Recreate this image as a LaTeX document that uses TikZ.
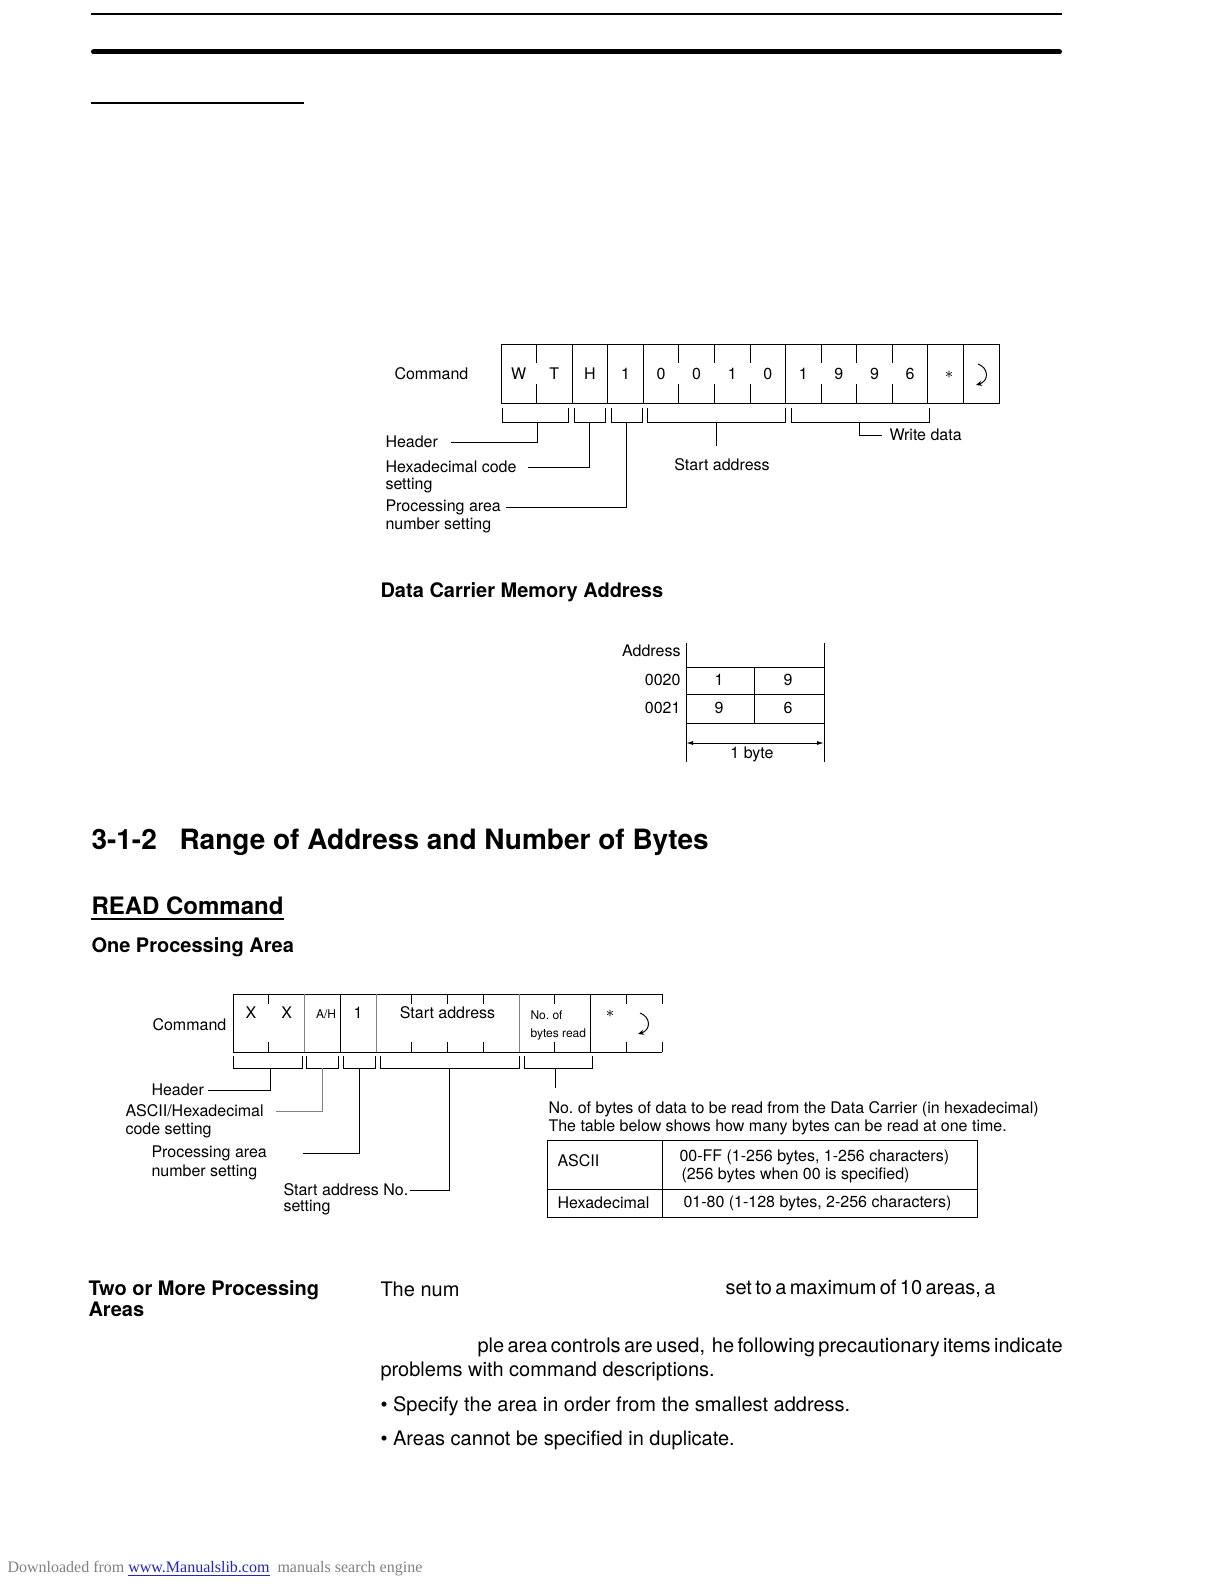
\documentclass[tikz,border=0pt]{standalone}
\usepackage{fontspec}
\setmainfont{TeX Gyre Heros}
\newfontfamily\footfont{Liberation Serif}
\usepackage{xcolor}
\usepackage{tikz}
\usetikzlibrary{arrows.meta, positioning}

\definecolor{linkblue}{RGB}{35,35,190}
\newcommand{\lblsize}{\fontsize{8}{9.6}\selectfont}
\newcommand{\tinysize}{\fontsize{6}{7.2}\selectfont}
\newcommand{\bodysize}{\fontsize{10}{12}\selectfont}
\newcommand{\tightwords}{\spaceskip=1.7pt plus 0.5pt\relax}

\begin{document}
\begin{tikzpicture}[
    x=0.5pt, y=-0.5pt, line width=0.5pt,
    lbl/.style={font=\lblsize, inner sep=0pt, anchor=west},
    cellch/.style={font=\lblsize, inner sep=0pt},
    smallch/.style={font=\tinysize, inner sep=0pt, anchor=west},
    head/.style={font=\bfseries\bodysize, inner sep=0pt, anchor=west},
    body/.style={font=\bodysize, inner sep=0pt, anchor=west},
    title/.style={font=\bfseries\fontsize{14}{16.8}\selectfont, inner sep=0pt, anchor=base west},
    ret/.style={-{Stealth[length=3pt, width=2.6pt]}},
    dimtip/.style={{Latex[length=3.5pt, width=2pt]}-{Latex[length=3.5pt, width=2pt]}}
  ]
  \useasboundingbox (0,0) rectangle (1224,1584);

  % page rules
  \draw[line width=1pt] (91,14) -- (1062,14);
  \draw[line width=2.5pt, line cap=round] (93.5,52) -- (1059.5,52);
  \draw[line width=0.6pt] (91,103) -- (304,103);

  % WRITE command frame
  \node[lbl] (wcmd) at (394,374) {Command};
  \draw (501,344) rectangle (999,403);
  \foreach \i in {2,3,4,8,12,13}
    \draw ({501+\i*35.57},344) -- ++(0,59);
  \foreach \i in {1,5,6,7,9,10,11} {
    \draw ({501+\i*35.57},344) -- ++(0,19);
    \draw ({501+\i*35.57},403) -- ++(0,-19);
  }
  \foreach \c [count=\i from 0] in {W,T,H,1,0,0,1,0,1,9,9,6}
    \node[cellch] (w\i) at ({501+(\i+0.5)*35.57},374) {\c};
  \node[cellch] (wast) at (949,375) {$\ast$};
  \draw[ret] (978,364) .. controls (989,368) and (989,381) .. (976,385);

  % WRITE field brackets
  \foreach \l/\r/\m/\n in {502/568/537/wb1, 574/605/589.5/wb2, 611/642/626.5/wb3,
                           647/785/716/wb4, 791/929/859/wb5} {
    \draw (\l,408) -- (\l,422) -- (\r,422) -- (\r,408);
    \coordinate (\n) at (\m,422);
  }

  % WRITE field labels
  \node[lbl] (whdr) at (385,442) {Header};
  \node[lbl] (whex) at (385,467) {Hexadecimal code};
  \node[lbl] (whex2) at (385,486) {setting};
  \node[lbl] (wproc) at (385,507) {Processing area};
  \node[lbl] (wproc2) at (385,525) {number setting};
  \node[cellch, below=18pt of wb4, xshift=3pt] (wsa) {Start address};
  \node[lbl] (wwd) at (889,435) {Write data};

  \draw (wb1) |- ([xshift=6.5pt]whdr.east);
  \draw (wb2) |- ([xshift=5.5pt]whex.east);
  \draw (wb3) |- ([xshift=2.5pt]wproc.east);
  \draw (wb4) -- ([yshift=6pt]wb4 |- wsa.north);
  \draw (wb5) |- ([xshift=-3.5pt]wwd.west);

  % memory address map
  \node[head] (memh) at (380,592) {Data Carrier Memory Address};
  \draw (686,643) -- (686,762);
  \draw (824,643) -- (824,762);
  \foreach \y in {667,694,723}
    \draw (686,\y) -- (824,\y);
  \draw (754,667) -- (754,723);
  \node[lbl, anchor=east] (maddr) at (681,651) {Address};
  \node[lbl, anchor=east] (m20) at (681,680) {0020};
  \node[lbl, anchor=east] (m21) at (681,708) {0021};
  \node[cellch] (m20a) at (719,680) {1};
  \node[cellch] (m20b) at (788,680) {9};
  \node[cellch] (m21a) at (719,708) {9};
  \node[cellch] (m21b) at (788,708) {6};
  \coordinate (mleft) at (686,743);
  \coordinate (mright) at (824,743);
  \draw[dimtip] (mleft) -- (mright);
  \node[cellch] (mbyte) at (752,754) {1 byte};

  % headings
  \node[title] (secno) at (91,849) {3-1-2};
  \node[title] (sectitle) at (179,849) {Range of Address and Number of Bytes};
  \node[font=\bfseries\fontsize{12}{14.4}\selectfont, inner sep=0pt, anchor=west]
    (readh) at (91,906) {READ Command};
  \draw[line width=1pt] (91,919) -- (readh.east |- 0,919);
  \node[head] (oneh) at (91,947) {One Processing Area};

  % READ command frame
  \node[lbl] (rcmd) at (152,1025) {Command};
  \draw (662,994) -- (233,994) -- (233,1052) -- (662,1052);
  \foreach \i in {3,10}
    \draw ({233+\i*35.75},994) -- ++(0,58);
  \foreach \i in {2,4,8}
    \draw[gray] ({233+\i*35.75},994) -- ++(0,58);
  \foreach \i in {1,5,6,7,9,11,12} {
    \draw ({233+\i*35.75},994) -- ++(0,10);
    \draw ({233+\i*35.75},1052) -- ++(0,-10);
  }
  \node[cellch] (rx1) at ({233+0.5*35.75},1013) {X};
  \node[cellch] (rx2) at ({233+1.5*35.75},1013) {X};
  \node[cellch, font=\tinysize] (rah) at (326,1014) {A/H};
  \node[cellch] (rone) at ({233+3.5*35.75},1013) {1};
  \node[cellch] (rsad) at ({233+6*35.75},1013) {Start address};
  \node[smallch] (rno) at (530,1015) {No.\ of};
  \node[smallch] (rno2) at (530,1034) {bytes read};
  \node[cellch] (rast) at (610,1014) {$\ast$};
  \draw[ret] (640,1013) .. controls (651,1017) and (651,1030) .. (638,1034);

  % READ field brackets
  \foreach \l/\r/\m/\n in {233/302/270/rb1, 306/338/322/rb2, 343/375/359/rb3,
                           380/519/449.5/rb4, 524/592/555/rb5} {
    \draw (\l,1056) -- (\l,1068) -- (\r,1068) -- (\r,1056);
    \coordinate (\n) at (\m,1068);
  }

  % READ field labels
  \node[lbl] (rhdr) at (151,1090) {Header};
  \node[lbl] (rasc) at (125,1111) {ASCII/Hexadecimal};
  \node[lbl] (rasc2) at (125,1130) {code setting};
  \node[lbl] (rproc) at (151,1153) {Processing area};
  \node[lbl] (rproc2) at (151,1172) {number setting};
  \node[lbl] (rsa) at (283,1190) {Start address No.};
  \node[lbl] (rsa2) at (283,1208) {setting};
  \node[lbl] (rnb) at (548,1109)
    {No.\ of bytes of data to be read from the Data Carrier (in hexadecimal)};
  \node[lbl] (rnb2) at (548,1127)
    {The table below shows how many bytes can be read at one time.};

  \draw (rb1) |- ([xshift=2pt]rhdr.east);
  \draw[gray] (rb2) |- ([xshift=6pt]rasc.east);
  \draw (rb3) |- ([xshift=18pt]rproc.east);
  \draw (rb4) |- ([xshift=0.5pt]rsa.east);
  \draw (rb5) -- ([yshift=6.5pt]rb5 |- rnb.north);

  % byte count table
  \draw (547,1140) rectangle (977,1217);
  \draw (547,1189) -- (977,1189);
  \draw (662,1140) -- (662,1217);
  \node[lbl] (tasc) at (557,1161) {ASCII};
  \node[lbl] (thex) at (557,1203) {Hexadecimal};
  \node[lbl] (tasc1) at (679,1157) {00-FF (1-256 bytes, 1-256 characters)};
  \node[lbl] (tasc2) at (681,1175) {(256 bytes when 00 is specified)};
  \node[lbl] (thex1) at (683,1203) {01-80 (1-128 bytes, 2-256 characters)};

  % body text
  \node[head] (twoh) at (88,1290) {Two or More Processing};
  \node[head] (twoh2) at (88,1309) {Areas};
  \node[body] (p1a) at (380,1289) {The num};
  \node[body] (p1b) at (725,1289) {\tightwords set to a maximum of 10 areas, a};
  \node[body] (p2a) at (477,1347)
    {\tightwords ple area controls are used,\ \ he following precautionary items indicate};
  \node[body] (p2b) at (380,1371) {problems with command descriptions.};
  \node[body] (bul1) at (380,1406) {\textbullet\ Specify the area in order from the smallest address.};
  \node[body] (bul2) at (380,1440) {\textbullet\ Areas cannot be specified in duplicate.};

  % footer
  \node[font=\footfont\fontsize{8}{10}\selectfont, text=gray, inner sep=0pt, anchor=west]
    (foot) at (7,1569)
    {Downloaded from \textcolor{linkblue}{\underline{www.Manualslib.com}}\ \ manuals search engine};
\end{tikzpicture}
\end{document}
